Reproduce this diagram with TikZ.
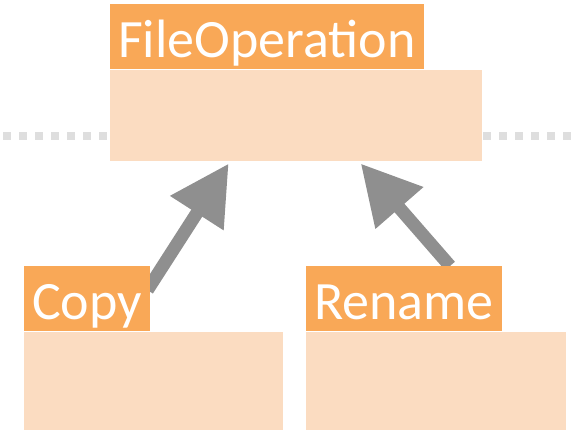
\documentclass[tikz,border=0pt]{standalone}
\usepackage{fontspec}
\setmainfont{Carlito}
\usepackage{tikz}
\usetikzlibrary{arrows.meta, positioning, calc, backgrounds}
\definecolor{orangeclasse}{HTML}{F9A857}
\definecolor{peche}{HTML}{FBDCC1}
\definecolor{grisfleche}{HTML}{8F8F8F}
\definecolor{grispoint}{HTML}{DEDEDE}

\tikzset{
  nomclasse/.style={fill=orangeclasse, text=white, font=\fontsize{54bp}{62bp}\selectfont,
    inner xsep=8bp, inner ysep=0pt, text height=53bp, text depth=12bp,
    align=left, anchor=north west},
  corps/.style={fill=peche, inner sep=0pt, anchor=north west},
  heritage/.style={draw=grisfleche, line width=13bp,
    -{Triangle[length=59bp, width=60bp]},
    preaction={draw=black!20, transform canvas={shift={(1.5bp,-1.5bp)}}}}
}

\begin{document}
\begin{tikzpicture}[x=1bp, y=-1bp]
        \useasboundingbox (0,0) rectangle (572,430);

        % Classe mère
        \node[nomclasse, text width=298bp] (fileop) at (110,4) {FileOperation};
        \node[corps, minimum width=372bp, minimum height=91bp] (fileopcorps) at (fileop.south west) {};

        % Classes filles
        \node[nomclasse, text width=110bp] (copy) at (24,266) {Copy};
        \node[corps, minimum width=259bp, minimum height=98bp] (copycorps) at (copy.south west) {};
        \node[nomclasse, text width=180bp] (rename) at (306,266) {Rename};
        \node[corps, minimum width=260bp, minimum height=98bp] (renamecorps) at (rename.south west) {};

        % Ligne pointillée et flèches d'héritage
        \begin{scope}[on background layer]
            \draw[grispoint, line width=8bp, dash pattern=on 8bp off 8bp] (3,136) -- (571,136);
            \draw[heritage] ($(copy.north east)+(-3,24)$) -- ($(fileopcorps.south west)+(118.7,2.7)$);
            \draw[heritage] ($(rename.north west)+(144,0)$) -- ($(fileopcorps.south west)+(250.7,2.7)$);
        \end{scope}
    \end{tikzpicture}
\end{document}
